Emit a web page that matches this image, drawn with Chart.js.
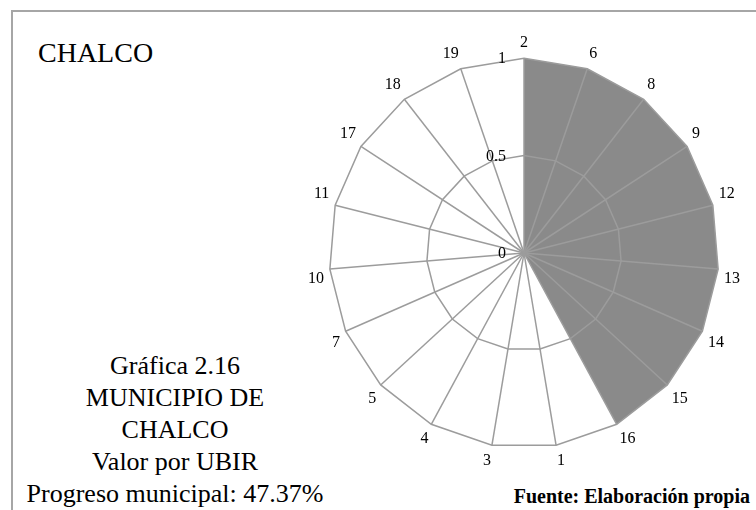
<!DOCTYPE html>
<html>
<head>
<meta charset="utf-8">
<script src="https://cdn.jsdelivr.net/npm/chart.js@4"></script>
<style>
  body { margin: 0; width: 756px; height: 510px; background: #fff; position: relative; overflow: hidden;
         font-family: 'Liberation Serif', 'Times New Roman', serif; color: #000; }
  #frame { position: absolute; left: 11px; top: 10px; width: 800px; height: 600px;
           border-top: 2px solid #a6a6a6; border-left: 2px solid #a6a6a6; }
  #title { position: absolute; left: 38px; top: 39px; font-size: 28px; line-height: 28px; font-family: 'Liberation Serif', serif; }
  #info { position: absolute; left: 0; width: 350px; top: 350px; text-align: center; font-size: 26px; line-height: 32px; font-family: 'Liberation Serif', serif; }
  #source { position: absolute; right: 6px; top: 486px; font-size: 20px; line-height: 20px; font-weight: bold; font-family: 'Liberation Serif', serif; }
  #wrap { position: absolute; left: 306px; top: 32px; width: 436px; height: 440px; }
</style>
</head>
<body>
<div id="frame"></div>
<div id="title">CHALCO</div>
<div id="info">Gráfica 2.16<br>MUNICIPIO DE<br>CHALCO<br>Valor por UBIR<br>Progreso municipal: 47.37%</div>
<div id="source">Fuente: Elaboración propia</div>
<div id="wrap"><canvas id="myChart"></canvas></div>
<script>
// UBIR order around the radar, clockwise from the top
var ubirLabels = ['2', '6', '8', '9', '12', '13', '14', '15', '16', '1', '3', '4', '5', '7', '10', '11', '17', '18', '19'];
var ubirValues = [1, 1, 1, 1, 1, 1, 1, 1, 1, 0, 0, 0, 0, 0, 0, 0, 0, 0, 0];
var tickValues = [0, 0.5, 1];

// tick numbers sit left of the vertical axis, like the original
var tickLabelsPlugin = {
    id: 'tickLabels',
    afterDraw: function (chart) {
        var s = chart.scales.r;
        var ctx = chart.ctx;
        ctx.save();
        ctx.font = "16px 'Liberation Serif'";
        ctx.fillStyle = '#000';
        ctx.textAlign = 'right';
        ctx.textBaseline = 'middle';
        tickValues.forEach(function (v) {
            ctx.fillText(String(v), s.xCenter - 18, s.yCenter - s.getDistanceFromCenterForValue(v) + 1);
        });
        ctx.restore();
    }
};

var ctx = document.getElementById('myChart').getContext('2d');
var chart = new Chart(ctx, {
    type: 'radar',
    data: {
        labels: ubirLabels,
        datasets: [{
            label: 'Valor por UBIR',
            data: ubirValues,
            backgroundColor: '#8a8a8a',
            borderWidth: 0,
            pointRadius: 0,
            fill: true
        }]
    },
    options: {
        responsive: true,
        maintainAspectRatio: false,
        animation: false,
        plugins: {
            legend: { display: false },
            tooltip: { enabled: false }
        },
        scales: {
            r: {
                min: 0,
                max: 1,
                ticks: { stepSize: 0.5, display: false },
                grid: { color: '#9c9c9c', lineWidth: 1.5, z: 1 },
                angleLines: { color: '#9c9c9c', lineWidth: 1.5 },
                pointLabels: {
                    color: '#000',
                    padding: 6,
                    font: { family: "'Liberation Serif'", size: 16 }
                }
            }
        }
    },
    plugins: [tickLabelsPlugin]
});
</script>
</body>
</html>
